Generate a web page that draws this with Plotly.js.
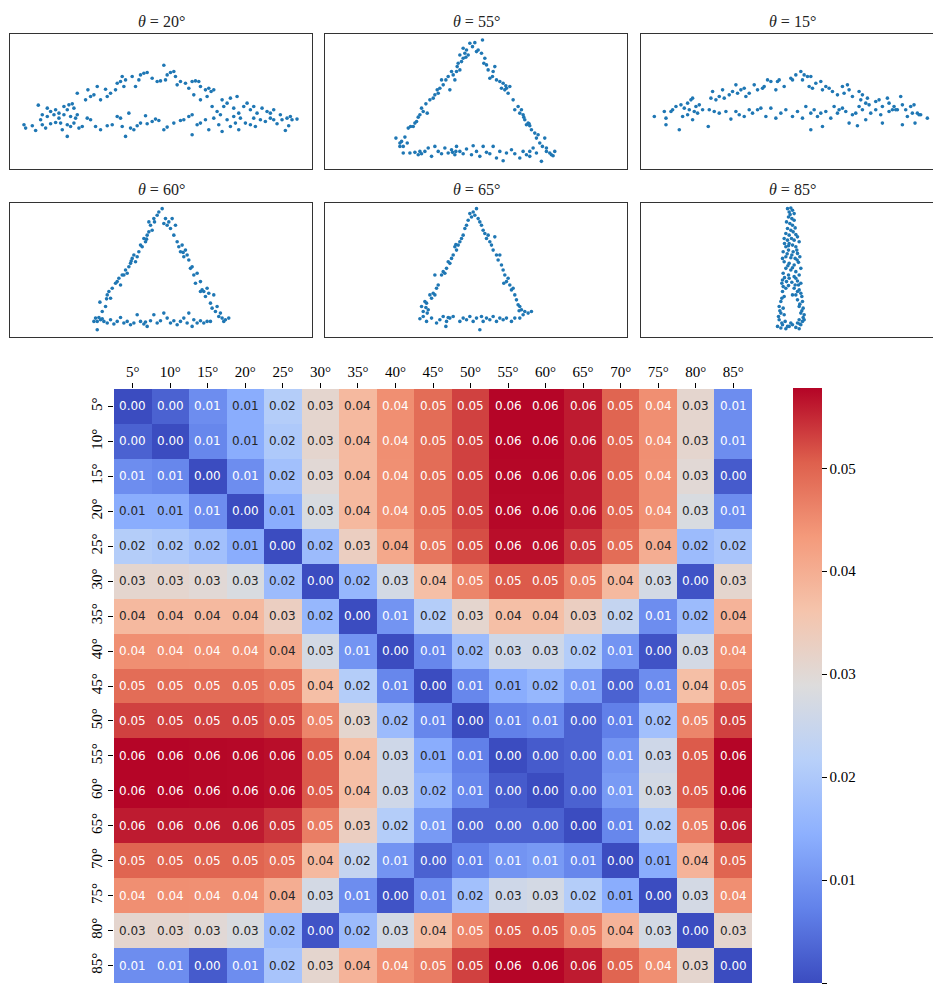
<!DOCTYPE html>
<html>
<head>
<meta charset="utf-8">
<script src="https://cdn.plot.ly/plotly-3.0.1.min.js"></script>
<style>
html,body{margin:0;padding:0;overflow:hidden;background:#fff;}
#chart{width:950px;height:988px;}
</style>
</head>
<body>
<div id="chart"></div>
<script>
// ---------------- DATA ----------------
const angles = [5,10,15,20,25,30,35,40,45,50,55,60,65,70,75,80,85];
const angleLabels = angles.map(a => a + '°');
const panelAngles = [20,55,15,60,65,85];

// pairwise distance matrix (rows/cols = angles)
const distance = [
 [0,.003,.009,.014,.021,.031,.038,.0447,.049,.053,.0577,.0577,.056,.050,.0447,.031,.009],
 [.003,0,.008,.014,.020,.031,.038,.0447,.049,.053,.0577,.0577,.056,.050,.0447,.031,.009],
 [.009,.008,0,.009,.018,.030,.038,.0446,.049,.053,.0576,.0576,.056,.050,.0446,.030,.002],
 [.014,.014,.009,0,.014,.028,.038,.0446,.049,.053,.0575,.0575,.056,.050,.0446,.028,.009],
 [.021,.020,.018,.014,0,.017,.033,.041,.048,.052,.057,.057,.054,.049,.040,.017,.019],
 [.031,.031,.030,.028,.017,0,.016,.027,.037,.046,.051,.051,.047,.038,.027,.001,.031],
 [.038,.038,.038,.038,.033,.016,0,.010,.021,.031,.037,.037,.033,.024,.009,.017,.039],
 [.0447,.0447,.0446,.0446,.041,.027,.010,0,.008,.017,.026,.026,.021,.010,.001,.027,.0447],
 [.049,.049,.049,.049,.048,.037,.021,.008,0,.008,.014,.016,.011,.003,.009,.037,.047],
 [.053,.053,.053,.053,.052,.046,.031,.017,.008,0,.007,.008,.003,.007,.018,.046,.053],
 [.0577,.0577,.0576,.0575,.057,.051,.037,.026,.014,.007,0,.002,.003,.010,.026,.051,.0577],
 [.0577,.0577,.0576,.0575,.057,.051,.037,.026,.016,.008,.002,0,.003,.011,.027,.051,.0577],
 [.056,.056,.056,.056,.054,.047,.033,.021,.011,.003,.003,.003,0,.008,.021,.047,.056],
 [.050,.050,.050,.050,.049,.038,.024,.010,.003,.007,.010,.011,.008,0,.014,.039,.050],
 [.0447,.0447,.0446,.0446,.040,.027,.009,.001,.009,.018,.026,.027,.021,.014,0,.027,.0447],
 [.031,.031,.030,.028,.017,.001,.017,.027,.037,.046,.051,.051,.047,.039,.027,0,.031],
 [.009,.009,.002,.009,.019,.031,.039,.0447,.047,.053,.0577,.0577,.056,.050,.0447,.031,0]
];
const colorbarTicks = [0,0.01,0.02,0.03,0.04,0.05];

// projected point clouds (arbitrary units, y downward)
const pts20 = [
 [113,316],[140,325],[150,335],[165,330],[175,340],[190,320],[200,330],[205,315],[215,312],[220,325],[230,280],[255,300],[262,270],[270,290],[280,285],[290,260],[300,300],[315,268],[320,290],[330,280],[345,270],[350,250],[360,245],[365,230],[370,260],[375,240],[395,230],[405,260],[415,240],[420,225],[430,220],[440,218],[455,235],
 [470,245],[480,243],[490,196],[495,240],[500,225],[510,218],[520,215],[525,230],[530,255],[540,245],[555,250],[565,265],[575,245],[585,243],[595,245],[600,260],[615,270],[625,265],[632,275],[640,270],
 [580,285],[600,300],[620,290],[635,320],[650,335],[665,300],[670,320],[680,310],[690,295],[700,325],[710,290],[715,340],[730,320],[740,310],[750,330],[760,320],[770,340],[785,325],[800,335],[810,340],[820,330],[840,345],[860,355],[870,350],[890,358],
 [70,375],[75,385],[95,378],[105,392],[120,360],[125,375],[135,385],[150,372],[165,368],[180,370],[185,390],[200,410],[200,375],[210,380],[220,370],[235,385],[245,380],[260,355],[270,360],[285,380],[300,390],[320,378],[335,375],[350,350],[360,355],[365,380],[375,410],[385,340],[390,385],[400,390],[410,378],[420,370],[435,348],[440,372],[455,365],[465,358],[475,362],[490,390],[500,382],[520,370],[540,362],[550,360],[565,350],[575,345],[575,405],[590,375],[600,370],[615,360],[625,390],[640,355],[655,375],[665,395],[680,360],[690,380],[705,370],[715,390],[720,355],[735,370],[750,375],[765,380],[780,360],[795,365],[810,355],[830,372],[845,360],[855,392],[865,378],[875,360],
 [125,345],[140,350],[160,345],[175,355],[190,345],[210,350],[225,355],[230,345],[700,350],[760,355],[820,360],[660,345]
];
const pts55 = [
 [228,415],[245,425],[250,440],[262,430],[255,412],[265,385],[272,380],[285,370],[290,365],[300,345],[295,352],[305,325],[318,312],[322,340],[330,300],[340,295],[345,285],[352,270],[360,265],[370,255],[365,240],[378,240],[385,230],[390,270],[395,215],[405,240],[410,215],[415,190],[420,210],[425,185],[430,175],[435,160],[440,150],[445,165],[430,145],[420,165],[450,130],[458,140],[465,128],[470,155],[488,120],[240,430],[280,380],[310,335],[355,280],[400,225],[412,200],[438,172],
 [475,150],[485,160],[495,175],[492,190],[500,195],[505,210],[510,235],[518,230],[525,200],[530,240],[540,245],[545,265],[550,250],[555,270],[560,265],[565,280],[570,260],[580,300],[585,330],[595,320],[600,340],[605,330],[610,345],[615,360],[620,375],[625,370],[630,378],[635,390],[645,400],[650,415],[655,405],[660,430],[668,440],[675,415],[680,445],[690,460],[705,455],[695,465],[640,445],[630,455],[520,215],[558,258],[612,352],[628,372],
 [240,440],[250,460],[270,460],[285,458],[295,465],[305,462],[315,455],[325,445],[335,470],[345,440],[355,455],[365,462],[375,445],[385,460],[395,450],[405,465],[410,440],[420,455],[430,462],[440,448],[455,465],[460,438],[470,455],[480,470],[490,440],[500,458],[510,462],[520,440],[530,475],[540,455],[550,483],[560,460],[575,450],[585,462],[600,475],[610,455],[620,465],[630,470],[650,460],[665,485],[680,455],[700,468],[300,455],[398,458],[408,455]
];
const pts15 = [
 [130,330],[140,320],[155,315],[165,325],[175,310],[185,300],[190,295],[200,320],[210,315],[245,295],[250,275],[260,300],[270,290],[280,270],[285,295],[300,285],[310,275],[320,255],[325,280],[335,270],[345,265],[350,290],[360,280],[375,255],[385,270],[400,265],[405,260],[415,240],[425,245],[440,270],[445,245],[450,240],[465,260],[485,235],
 [490,240],[500,225],[515,215],[520,240],[525,225],[535,230],[545,230],[540,260],[550,265],[560,250],[575,245],[580,270],[590,260],[600,265],[610,275],[625,285],[640,260],[645,280],[655,255],[660,270],[670,290],
 [690,275],[695,300],[700,285],[710,310],[715,295],[720,315],[740,305],[750,300],[760,320],[775,295],[780,310],[795,320],[805,330],[815,290],[820,315],[830,330],[845,320],[855,315],[865,340],[875,345],[895,355],
 [75,350],[105,335],[110,355],[110,375],[125,335],[150,390],[160,350],[175,345],[190,360],[205,340],[220,330],[240,330],[237,380],[255,335],[270,340],[290,335],[305,358],[320,335],[330,345],[345,350],[360,330],[370,340],[385,330],[395,325],[410,350],[425,325],[440,355],[455,340],[470,330],[490,350],[505,335],[520,355],[530,320],[545,390],[545,340],[555,330],[565,350],[575,340],[580,380],[590,335],[605,355],[615,320],[625,340],[640,325],[650,335],[660,370],[670,345],[680,340],[685,378],[700,330],[710,360],[725,340],[740,330],[755,345],[760,370],[780,335],[800,330],[820,375],[835,350],[850,340],[858,370],[870,345],[180,330],[195,335],[630,330],[690,320],[790,330]
];
const pts60 = [
 [290,440],[298,382],[305,410],[315,395],[320,360],[325,350],[330,370],[335,340],[345,325],[350,320],[355,310],[360,330],[365,300],[370,300],[375,285],[385,275],[380,295],[390,265],[395,250],[400,240],[405,260],[410,245],[415,230],[420,210],[425,215],[430,190],[435,200],[440,180],[445,170],[450,150],[455,165],[445,140],[460,130],[470,120],[475,110],[485,100],[318,372],[392,258],[438,192],[462,140],
 [495,130],[500,150],[505,140],[510,160],[515,130],[520,180],[525,150],[530,200],[535,215],[540,230],[545,210],[550,245],[555,225],[560,240],[565,255],[570,280],[575,275],[580,300],[585,325],[590,295],[600,320],[605,345],[610,350],[615,365],[620,340],[625,355],[630,385],[635,400],[640,360],[645,410],[650,395],[660,415],[665,430],[675,435],[685,430],[490,145],[548,232],[600,350],
 [280,440],[285,430],[295,428],[300,435],[310,440],[320,445],[330,435],[340,448],[350,440],[360,428],[370,445],[380,440],[390,450],[400,445],[410,420],[420,440],[430,448],[440,455],[450,438],[460,420],[470,445],[480,438],[490,415],[500,430],[510,445],[520,438],[530,450],[540,440],[550,430],[560,445],[565,415],[575,455],[580,435],[590,445],[600,438],[610,445],[620,440],[630,440],[655,425],[670,440],[290,465],[305,432],[435,442]
];
const pts65 = [
 [305,395],[310,410],[315,380],[320,385],[325,405],[330,360],[335,370],[340,355],[345,360],[350,340],[355,330],[345,300],[365,300],[370,290],[375,295],[380,280],[385,260],[390,265],[395,250],[400,240],[405,215],[410,225],[415,210],[420,200],[425,190],[430,180],[435,160],[440,150],[445,135],[450,115],[455,125],[460,110],[470,100],[465,120],[475,130],[480,140],[318,398],[322,415],[408,208],
 [485,150],[490,165],[495,175],[500,190],[505,180],[510,200],[515,210],[520,225],[525,185],[530,240],[535,255],[540,240],[545,270],[550,285],[555,300],[560,320],[565,310],[570,330],[575,345],[580,340],[585,360],[590,375],[595,390],[600,395],[605,405],[610,420],[615,410],[625,415],[635,410],[600,430],[552,325],[598,408],
 [300,432],[310,425],[320,440],[335,430],[350,445],[360,435],[370,425],[380,440],[390,430],[400,425],[420,440],[430,430],[440,435],[450,425],[460,440],[470,430],[480,465],[485,425],[490,440],[500,430],[510,435],[520,425],[530,440],[540,430],[550,435],[560,430],[575,440],[585,430],[378,455],[385,428]
];
const pts85 = [
 [475,100],[480,110],[485,98],[490,105],[495,115],[478,125],[488,130],[495,135],[482,145],[490,150],[475,160],[485,165],[492,170],[480,180],[470,175],[500,178],[487,190],[465,190],[475,195],[495,195],[505,185],[480,205],[490,210],[470,215],[500,215],[510,200],[462,230],[478,225],[492,230],[505,235],[470,245],[485,248],[498,250],[512,245],[465,260],[480,265],[495,270],[508,262],[470,280],[485,285],[500,290],[515,280],[462,295],[478,300],[495,305],[510,300],[460,315],[472,320],[488,322],[505,318],[515,325],[462,335],[470,340],[495,340],[510,345],[465,365],[500,360],[515,355],[455,380],[505,375],[520,380],[450,395],[462,400],[510,395],[522,400],[455,415],[465,420],[515,415],[525,420],[450,435],[468,440],[510,435],[520,440],[445,455],[455,460],[470,462],[480,455],[490,450],[500,458],[510,462],[515,450],[525,435],[460,450],[485,445],[498,330],[480,310],[490,360],
 [483,118],[472,140],[498,158],[478,212],[466,205],[503,225],[474,236],[488,240],[460,250],[504,255],[476,272],[490,278],[466,308],[500,310],[458,325],[478,332],[508,330],[460,350],[505,350],[518,365],[458,370],[512,388],[452,408],[518,408],[448,425],[522,428],[458,445],[512,448],[475,455],[505,445]
];
const panelPoints = [pts20, pts55, pts15, pts60, pts65, pts85];

// ---------------- LAYOUT GEOMETRY ----------------
const W = 950, H = 988;
const fx = p => p / W;
const fy = p => 1 - p / H;

// panel boxes in page pixels: [left,right,top,bottom]
const panelBoxes = [
 [10,312,34,169],[325,627,34,169],[641,943,34,169],
 [10,312,203,337],[325,627,203,337],[641,943,203,337]
];
// axis ranges in the units of the point clouds
const panelRanges = [
 [[28,935],[508,102]],[[15,922],[508,102]],[[35,942],[508,102]],
 [[28,935],[487,83]],[[15,922],[487,83]],[[35,942],[487,83]]
];

// coolwarm colormap
const coolwarm = [
 [0.0,'#3b4cc0'],[0.125,'#6282ea'],[0.25,'#8db0fe'],[0.375,'#b8d0f9'],
 [0.5,'#dddcdc'],[0.625,'#f5c4ac'],[0.75,'#f49a7b'],[0.875,'#de604d'],[1.0,'#b40426']
];
function hexToRgb(h){return [parseInt(h.slice(1,3),16),parseInt(h.slice(3,5),16),parseInt(h.slice(5,7),16)];}
function cmap(t){
  t = Math.max(0, Math.min(1, t));
  for (let k = 0; k < coolwarm.length - 1; k++){
    const [t0,c0] = coolwarm[k], [t1,c1] = coolwarm[k+1];
    if (t <= t1){
      const f = (t - t0) / (t1 - t0);
      const a = hexToRgb(c0), b = hexToRgb(c1);
      return a.map((v,i) => v + (b[i]-v)*f);
    }
  }
  return hexToRgb(coolwarm[coolwarm.length-1][1]);
}
function luminance(rgb){
  const l = rgb.map(v => { v = v/255; return v <= 0.03928 ? v/12.92 : Math.pow((v+0.055)/1.055, 2.4); });
  return 0.2126*l[0] + 0.7152*l[1] + 0.0722*l[2];
}

const zmin = 0;
const zmax = Math.max(...distance.map(r => Math.max(...r))) + 0.0001;

const serif = 'Liberation Serif, Times New Roman, serif';

const traces = [];
const layout = {
  width: W, height: H,
  margin: {l:0, r:0, t:0, b:0},
  paper_bgcolor: '#fff', plot_bgcolor: '#fff',
  showlegend: false,
  annotations: []
};

panelPoints.forEach((pts, k) => {
  const idx = k + 1;
  const xa = 'xaxis' + idx, ya = 'yaxis' + idx;
  traces.push({
    type: 'scatter', mode: 'markers',
    x: pts.map(p => p[0]), y: pts.map(p => p[1]),
    xaxis: 'x' + idx, yaxis: 'y' + idx,
    marker: {size: 3.6, color: '#1f77b4'},
    hoverinfo: 'skip'
  });
  const b = panelBoxes[k];
  const axBase = {showgrid:false, zeroline:false, showticklabels:false, ticks:'',
                  showline:true, mirror:true, linecolor:'#333', linewidth:1.2, fixedrange:true};
  layout[xa] = Object.assign({}, axBase, {domain:[fx(b[0]), fx(b[1])], range: panelRanges[k][0], anchor:'y'+idx});
  layout[ya] = Object.assign({}, axBase, {domain:[fy(b[3]), fy(b[2])], range: panelRanges[k][1], anchor:'x'+idx});
  layout.annotations.push({
    xref:'paper', yref:'paper', x: fx((b[0]+b[1])/2), y: fy(b[2]-13),
    xanchor:'center', yanchor:'middle', showarrow:false,
    text: '<i>θ</i> = ' + panelAngles[k] + '°',
    font: {family: serif, size: 16, color:'#222'}
  });
});

// heatmap
const hm = {left:114, right:752, top:389, bottom:983};
traces.push({
  type:'heatmap',
  z: distance, x: angleLabels, y: angleLabels,
  xaxis:'x7', yaxis:'y7',
  zmin: zmin, zmax: zmax,
  colorscale: coolwarm,
  hoverinfo:'skip',
  colorbar: {
    x: fx(793), xanchor:'left', xpad:0,
    y: fy(388), yanchor:'top', ypad:0,
    thickness: 29, thicknessmode:'pixels',
    len: 595, lenmode:'pixels',
    outlinewidth: 0,
    ticks:'outside', ticklen:5, tickwidth:1, tickcolor:'#000',
    tickvals: colorbarTicks, tickformat: '.2f',
    tickfont: {family: serif, size: 15, color:'#000'}
  }
});
layout.xaxis7 = {
  domain:[fx(hm.left), fx(hm.right)], anchor:'y7', side:'top', type:'category',
  categoryorder:'array', categoryarray: angleLabels,
  ticks:'outside', ticklen:5, tickwidth:1, tickcolor:'#000',
  showgrid:false, zeroline:false, showline:false, fixedrange:true,
  tickfont:{family: serif, size:15, color:'#000'}
};
layout.yaxis7 = {
  domain:[fy(hm.bottom), fy(hm.top)], anchor:'x7', type:'category',
  categoryorder:'array', categoryarray: angleLabels, autorange:'reversed',
  ticks:'outside', ticklen:5, tickwidth:1, tickcolor:'#000', tickangle:-90,
  showgrid:false, zeroline:false, showline:false, fixedrange:true,
  tickfont:{family: serif, size:15, color:'#000'}
};

distance.forEach((row, i) => {
  row.forEach((v, j) => {
    const lum = luminance(cmap((v - zmin) / (zmax - zmin)));
    layout.annotations.push({
      xref:'x7', yref:'y7', x: angleLabels[j], y: angleLabels[i],
      text: v.toFixed(2), showarrow:false,
      font:{family:'DejaVu Sans, sans-serif', size:12, color: lum > 0.408 ? '#262626' : '#ffffff'}
    });
  });
});

Plotly.newPlot('chart', traces, layout, {displayModeBar:false, staticPlot:true});
</script>
</body>
</html>
